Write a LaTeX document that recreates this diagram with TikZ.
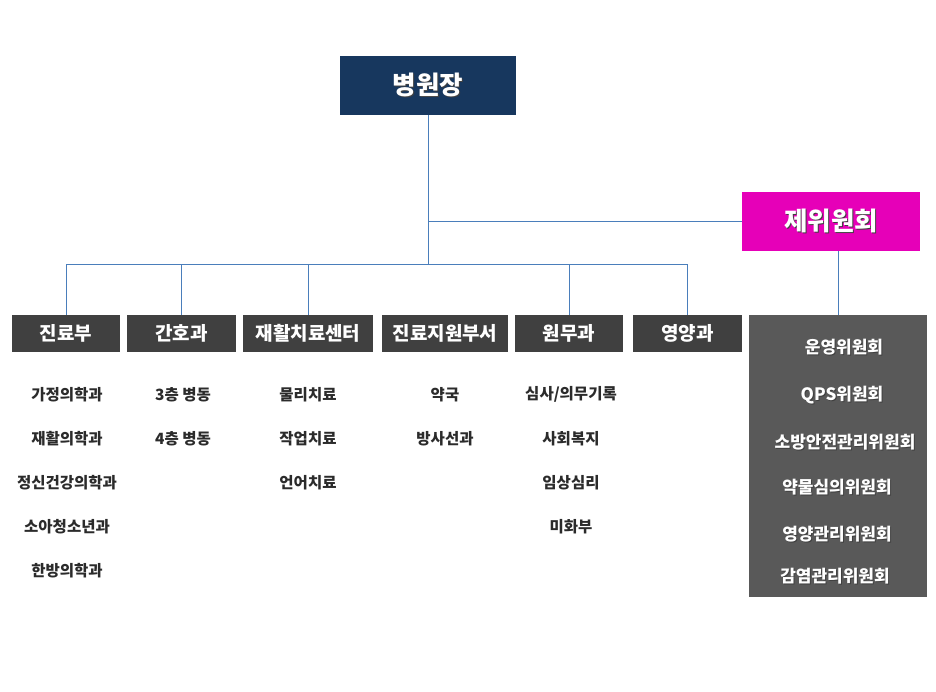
\documentclass[tikz,border=0pt]{standalone}
\usepackage{fontspec}
\setmainfont{Noto Sans CJK KR}
\usetikzlibrary{positioning}
\definecolor{navyBox}{HTML}{17375E}
\definecolor{pinkBox}{HTML}{E600B8}
\definecolor{deptGray}{HTML}{404040}
\definecolor{commGray}{HTML}{595959}
\definecolor{lineBlue}{HTML}{4A7EBB}
\definecolor{itemGray}{HTML}{2B2B2B}
\newcommand{\shadowed}[1]{\makebox[0pt][l]{\hspace{1pt}\raisebox{-1pt}{\textcolor{black!75}{#1}}}#1}
\tikzset{
    topBox/.style={text=white, minimum height=59pt, inner sep=0pt,
        font=\fontsize{25.5}{28}\selectfont\bfseries},
    deptBox/.style={fill=deptGray, text=white, minimum height=37pt, inner sep=0pt,
        font=\fontsize{19}{21}\selectfont\bfseries},
    itemText/.style={text=itemGray, inner sep=0pt,
        font=\fontsize{15.5}{17}\selectfont\bfseries},
    commText/.style={text=white, inner sep=0pt,
        font=\fontsize{17}{19}\selectfont\bfseries},
    orgLine/.style={draw=lineBlue, line width=0.9pt}
}
\begin{document}
\begin{tikzpicture}[x=1pt,y=-1pt]
	\useasboundingbox (0,0) rectangle (936,691);
	% top level
	\node[topBox, fill=navyBox, minimum width=176pt] (head) at (428,85.5) {\shadowed{병원장}};
	\node[topBox, fill=pinkBox, minimum width=178pt] (jewi) at (831,221.5) {\shadowed{제위원회}};
	% departments
	\node[deptBox, minimum width=108pt] (d1) at (66,333.5) {\shadowed{진료부}};
	\node[deptBox, minimum width=109pt] (d2) at (181.5,333.5) {\shadowed{간호과}};
	\node[deptBox, minimum width=130pt] (d3) at (308,333.5) {\shadowed{재활치료센터}};
	\node[deptBox, minimum width=126pt] (d4) at (445,333.5) {\shadowed{진료지원부서}};
	\node[deptBox, minimum width=108pt] (d5) at (569,333.5) {\shadowed{원무과}};
	\node[deptBox, minimum width=109pt] (d6) at (687.5,333.5) {\shadowed{영양과}};
	\node[fill=commGray, minimum width=178pt, minimum height=282pt, inner sep=0pt] (comm) at (838,456) {};
	% connectors
	\coordinate (bus) at (428,264);
	\draw[orgLine] (head.south) -- (bus);
	\draw[orgLine] (jewi.west) -- (jewi.west -| head.south);
	\draw[orgLine] (d1.north |- bus) -- (d6.north |- bus);
	\foreach \d in {d1,d2,d3,d5,d6}
		\draw[orgLine] (\d.north) -- (\d.north |- bus);
	\draw[orgLine] (comm.north) -- (comm.north |- jewi.south);
	% sub units
	\foreach \t [count=\i] in {가정의학과,재활의학과,정신건강의학과,소아청소년과,한방의학과}
		\node[itemText] (a\i) at (67,350.5+44*\i) {\t};
	\foreach \t [count=\i] in {3층 병동,4층 병동}
		\node[itemText] (b\i) at (183,350.5+44*\i) {\t};
	\foreach \t [count=\i] in {물리치료,작업치료,언어치료}
		\node[itemText] (c\i) at (308,350.5+44*\i) {\t};
	\foreach \t [count=\i] in {약국,방사선과}
		\node[itemText] (e\i) at (445,350.5+44*\i) {\t};
	\foreach \t [count=\i] in {심사/의무기록,사회복지,임상심리,미화부}
		\node[itemText] (f\i) at (571,350.5+44*\i) {\t};
	% committees
	\node[commText] (k1) at (844,348) {\shadowed{운영위원회}};
	\node[commText] (k2) at (842,396) {\shadowed{QPS위원회}};
	\node[commText] (k3) at (845,443) {\shadowed{소방안전관리위원회}};
	\node[commText] (k4) at (837,488) {\shadowed{약물심의위원회}};
	\node[commText] (k5) at (837,535) {\shadowed{영양관리위원회}};
	\node[commText] (k6) at (835,577) {\shadowed{감염관리위원회}};
\end{tikzpicture}
\end{document}
